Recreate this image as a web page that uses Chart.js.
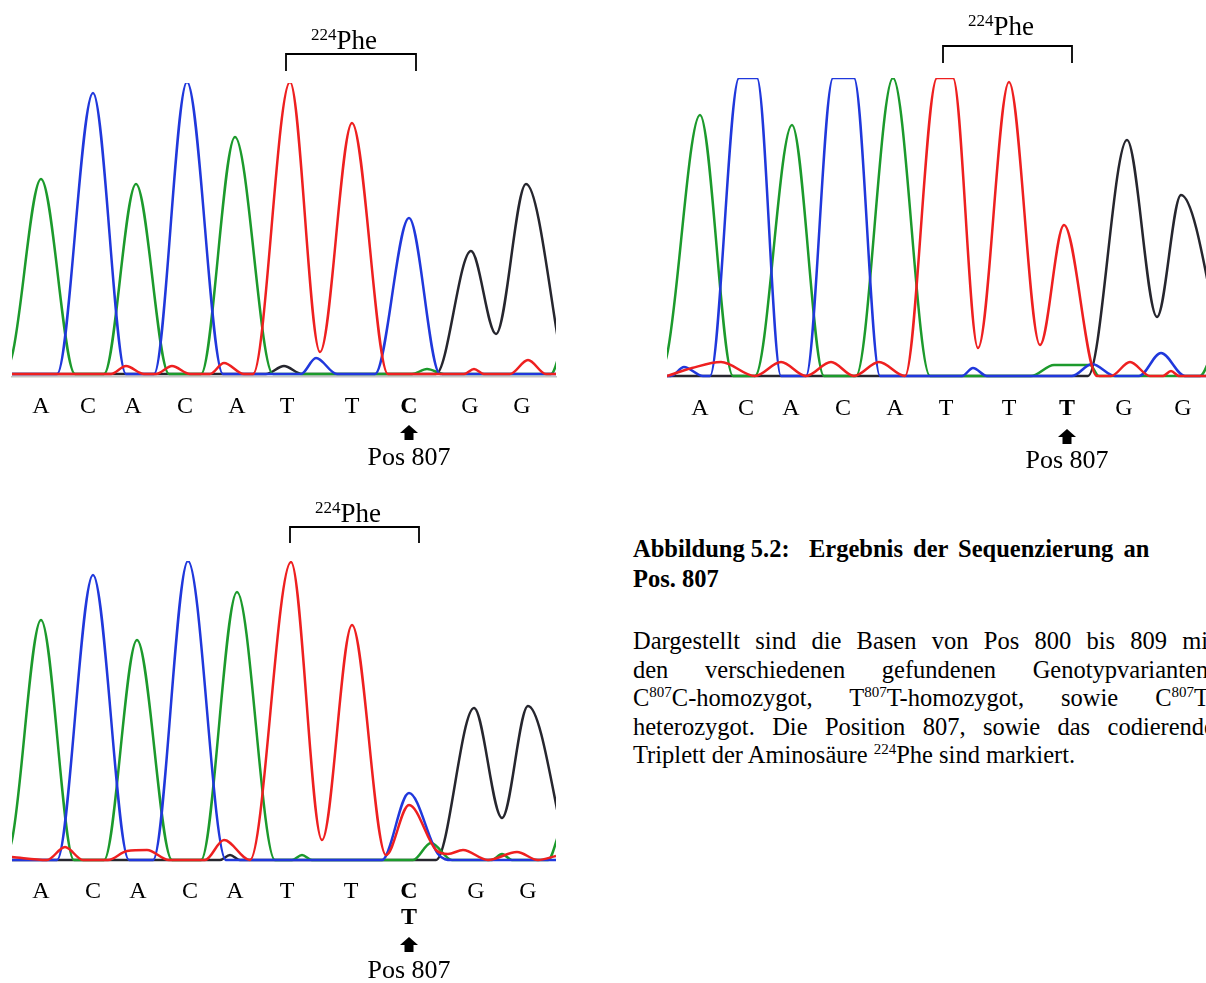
<!DOCTYPE html>
<html>
<head>
<meta charset="utf-8">
<script src="https://cdn.jsdelivr.net/npm/chart.js@4.4.0/dist/chart.umd.min.js"></script>
<style>
  html, body { margin: 0; padding: 0; background: #fff; width: 1206px; height: 983px; overflow: hidden; }
  canvas { position: absolute; }
  .serif { font-family: "Liberation Serif", "Times New Roman", serif; color: #000; }
  #title { position: absolute; left: 633px; top: 534px; font-weight: bold; font-size: 24.5px; line-height: 30px; white-space: nowrap; }
  #title .lead { display: inline-block; width: 176px; }
  #title .rest { word-spacing: 4px; }
  #para { position: absolute; left: 633px; top: 627px; width: 582px; font-size: 24.5px; line-height: 28.5px; }
  #para div { text-align: justify; text-align-last: justify; white-space: nowrap; }
  #para div.last { text-align: left; text-align-last: left; }
  sup { font-size: 15px; line-height: 0; vertical-align: 9px; }
</style>
</head>
<body>
<canvas id="p1" width="560" height="480" style="left:0;top:0"></canvas>
<canvas id="p2" width="559" height="480" style="left:650px;top:0"></canvas>
<canvas id="p3" width="560" height="493" style="left:0;top:490px"></canvas>

<div id="title" class="serif">
  <div><span class="lead">Abbildung 5.2:</span><span class="rest">Ergebnis der Sequenzierung an</span></div>
  <div>Pos. 807</div>
</div>
<div id="para" class="serif">
  <div>Dargestellt sind die Basen von Pos 800 bis 809 mit</div>
  <div>den verschiedenen gefundenen Genotypvarianten:</div>
  <div>C<sup>807</sup>C-homozygot, T<sup>807</sup>T-homozygot, sowie C<sup>807</sup>T-</div>
  <div>heterozygot. Die Position 807, sowie das codierende</div>
  <div class="last">Triplett der Aminosäure <sup>224</sup>Phe sind markiert.</div>
</div>

<script>
// trace points [scan, signal] (Pos 800-809)
// panel 1: C807C homozygous
const p1A = [[-12,0],[0,18],[29,195],[63,0],[92,0],[124,190],[157,0],[189,0],[223,237],[261,0],[400,0],[415,5],[432,0],[539,0],[550,28]];
const p1C = [[0,0],[45,0],[81,281],[114,0],[142,0],[175,292],[211,0],[289,0],[304,16],[325,0],[363,0],[397,156],[428,0],[544,0]];
const p1T = [[0,0],[99,0],[114,8],[132,0],[144,0],[160,8],[178,0],[198,0],[212,11],[232,0],[241,0],[278,292],[308,22],[340,251],[376,0],[452,0],[462,5],[472,0],[498,0],[516,14],[534,0],[544,0]];
const p1G = [[0,0],[254,0],[272,8],[290,0],[424,0],[459,123],[484,40],[514,190],[552,0]];
const p1Pos = [29, 76, 121, 173, 225, 275, 340, 397, 458, 510];
const p1Bases = ['A', 'C', 'A', 'C', 'A', 'T', 'T', 'C', 'G', 'G'];
const p1Bracket = [274, 404];

// panel 2: T807T homozygous
const p2A = [[-12,0],[0,21],[33,261],[66,0],[88,0],[125,251],[157,0],[189,0],[226,298],[263,0],[364,0],[387,11],[423,11],[432,0],[533,0],[545,22]];
const p2C = [[0,0],[4,0],[17,9],[36,0],[43,0],[72,298],[90,298],[114,0],[139,0],[166,298],[187,298],[213,0],[295,0],[306,8],[320,0],[405,0],[425,12],[448,0],[472,0],[494,23],[518,0],[539,0]];
const p2T = [[0,0],[25,8],[54,14],[88,0],[114,14],[139,0],[164,14],[187,0],[212,14],[238,0],[270,298],[286,298],[311,28],[342,294],[373,31],[397,151],[430,0],[444,0],[463,14],[483,0],[496,0],[504,5],[512,0],[539,0]];
const p2G = [[0,0],[421,0],[460,236],[490,59],[514,181],[560,0]];
const p2Pos = [33, 79, 124, 176, 228, 279, 342, 400, 457, 516];
const p2Bases = ['A', 'C', 'A', 'C', 'A', 'T', 'T', 'T', 'G', 'G'];
const p2Bracket = [276, 405];

// panel 3: C807T heterozygous
const p3A = [[-12,0],[0,20],[29,240],[62,0],[92,0],[125,220],[160,0],[189,0],[225,268],[263,0],[280,0],[290,5],[300,0],[401,0],[419,17],[440,0],[480,0],[490,6],[500,0],[536,0],[548,30]];
const p3C = [[0,0],[45,0],[81,285],[117,0],[141,0],[176,299],[214,0],[370,0],[397,67],[426,6],[440,0],[544,0]];
const p3T = [[0,3],[35,0],[53,13],[71,0],[96,0],[115,9],[135,10],[157,0],[193,0],[212,20],[238,0],[279,298],[310,20],[340,235],[374,5],[397,55],[424,10],[436,6],[451,10],[476,0],[505,8],[526,0],[544,4]];
const p3G = [[0,0],[208,0],[218,5],[228,0],[424,0],[462,152],[490,42],[516,154],[556,0]];
const p3Pos = [29, 81, 126, 178, 223, 275, 339, 397, 464, 516];
const p3Bases = ['A', 'C', 'A', 'C', 'A', 'T', 'T', ['C', 'T'], 'G', 'G'];
const p3Bracket = [278, 407];

const MARK = 7; // index of Pos 807
const FONT = '"Liberation Serif", "Times New Roman", serif';
const colors = { A: '#1c9a2c', C: '#2038dc', G: '#26262e', T: '#ee2020' };

// bracket, 224Phe, arrow and "Pos 807"
const seqMarks = {
  id: 'seqMarks',
  afterDraw(chart, args, opts) {
    const { ctx, chartArea } = chart;
    const x = chart.scales.x;
    ctx.save();
    ctx.fillStyle = '#000';
    ctx.strokeStyle = '#000';
    ctx.lineWidth = 1.8;

    const x0 = x.getPixelForValue(opts.bracket[0]);
    const x1 = x.getPixelForValue(opts.bracket[1]);
    const yTop = chartArea.top - opts.bracketTop;
    const yEnd = chartArea.top - opts.bracketEnd;
    ctx.beginPath();
    ctx.moveTo(x0, yEnd);
    ctx.lineTo(x0, yTop);
    ctx.lineTo(x1, yTop);
    ctx.lineTo(x1, yEnd);
    ctx.stroke();

    const tx = x0 + 25;
    const ty = chartArea.top - opts.pheY;
    ctx.textBaseline = 'alphabetic';
    ctx.textAlign = 'left';
    ctx.font = '17px ' + FONT;
    ctx.fillText('224', tx, ty - 9);
    const w = ctx.measureText('224').width;
    ctx.font = '27px ' + FONT;
    ctx.fillText('Phe', tx + w, ty);

    const ax = x.getPixelForValue(opts.pos[MARK]);
    const ay = x.top + opts.arrowY;
    ctx.beginPath();
    ctx.moveTo(ax, ay);
    ctx.lineTo(ax + 9, ay + 8);
    ctx.lineTo(ax + 4.5, ay + 8);
    ctx.lineTo(ax + 4.5, ay + 15);
    ctx.lineTo(ax - 4.5, ay + 15);
    ctx.lineTo(ax - 4.5, ay + 8);
    ctx.lineTo(ax - 9, ay + 8);
    ctx.closePath();
    ctx.fill();

    ctx.textAlign = 'center';
    ctx.font = '26px ' + FONT;
    ctx.fillText('Pos 807', ax, x.top + opts.posY);
    ctx.restore();
  }
};

function trace(pts, base) {
  return {
    label: base,
    data: pts.map(([x, y]) => ({ x, y })),
    borderColor: colors[base],
    borderWidth: 2.5,
    pointRadius: 0,
    fill: false,
    cubicInterpolationMode: 'monotone',
  };
}

function makePanel(id, cfg) {
  new Chart(document.getElementById(id), {
    type: 'line',
    data: {
      // red drawn last (on top)
      datasets: [trace(cfg.T, 'T'), trace(cfg.C, 'C'), trace(cfg.A, 'A'), trace(cfg.G, 'G')],
    },
    options: {
      responsive: false,
      animation: false,
      events: [],
      layout: { padding: { left: cfg.left, right: cfg.right, top: cfg.top, bottom: 0 } },
      plugins: {
        legend: { display: false },
        tooltip: { enabled: false },
        seqMarks: cfg.marks,
      },
      scales: {
        x: {
          type: 'linear',
          min: 0,
          max: cfg.width,
          grid: { display: false, drawTicks: false },
          border: { display: cfg.axisLine, color: '#c4c4c4', width: 1.5 },
          afterBuildTicks: (axis) => { axis.ticks = cfg.pos.map((v) => ({ value: v })); },
          afterFit: (scale) => { scale.height = cfg.axisH; },
          ticks: {
            autoSkip: false,
            maxRotation: 0,
            padding: cfg.tickPad,
            color: '#000',
            font: (c) => ({ family: FONT, size: 24, lineHeight: 1.08, weight: c.index === MARK ? 'bold' : 'normal' }),
            callback: (v, i) => cfg.bases[i],
          },
        },
        y: { display: false, min: -3, max: cfg.ymax },
      },
    },
    plugins: [seqMarks],
  });
}

makePanel('p1', {
  A: p1A, C: p1C, G: p1G, T: p1T, pos: p1Pos, bases: p1Bases,
  left: 12, right: 4, top: 83, width: 544, ymax: 291, axisH: 103, axisLine: true, tickPad: 17,
  marks: { bracket: p1Bracket, pos: p1Pos, bracketTop: 29, bracketEnd: 12, pheY: 34, arrowY: 48, posY: 88 },
});
makePanel('p2', {
  A: p2A, C: p2C, G: p2G, T: p2T, pos: p2Pos, bases: p2Bases,
  left: 17, right: 3, top: 78, width: 539, ymax: 298, axisH: 101, axisLine: false, tickPad: 17,
  marks: { bracket: p2Bracket, pos: p2Pos, bracketTop: 32, bracketEnd: 15, pheY: 43, arrowY: 50, posY: 89 },
});
makePanel('p3', {
  A: p3A, C: p3C, G: p3G, T: p3T, pos: p3Pos, bases: p3Bases,
  left: 12, right: 4, top: 71, width: 544, ymax: 299, axisH: 120, axisLine: false, tickPad: 16,
  marks: { bracket: p3Bracket, pos: p3Pos, bracketTop: 34, bracketEnd: 18, pheY: 39, arrowY: 74, posY: 115 },
});
</script>
</body>
</html>
